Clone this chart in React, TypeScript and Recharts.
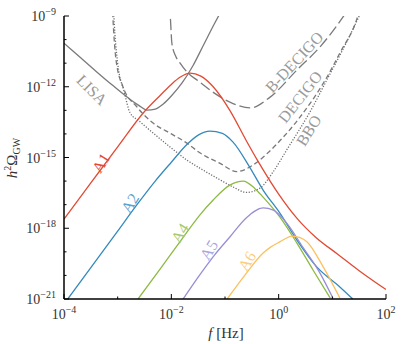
import React from 'react';
import { ComposedChart, Line, XAxis, YAxis, ReferenceDot, Label } from 'recharts';

// all values are exponents: x = log10(f / Hz), y = log10(h^2 Omega_GW)
const lisaX = [-4, -3.7, -3.4, -3.1, -2.8, -2.6, -2.45, -2.3, -2.15, -2.0, -1.8, -1.6, -1.4, -1.2, -1.0];
const lisaY = [-10.15, -10.75, -11.35, -11.93, -12.48, -12.8, -12.99, -12.95, -12.73, -12.39, -11.84, -11.12, -10.23, -9.34, -8.5];

const bDecigoX = [-2.04, -2.02, -1.99, -1.92, -1.84, -1.69, -1.5, -1.28, -0.91, -0.53, -0.16, 0.34, 0.77, 1.2, 1.3];
const bDecigoY = [-8.5, -9.0, -10.15, -10.7, -10.99, -11.42, -11.75, -12.14, -12.65, -12.9, -12.44, -11.29, -10.31, -9.04, -8.7];

const decigoX = [-3.1, -3.09, -3.03, -2.9, -2.64, -2.34, -2.0, -1.71, -1.47, -1.09, -0.78, -0.5, -0.2, 0.1, 0.4, 0.9, 1.14, 1.46, 1.5];
const decigoY = [-8.5, -9.0, -10.87, -12.01, -12.86, -13.54, -14.0, -14.39, -14.8, -15.25, -15.6, -15.35, -14.8, -14.1, -13.28, -11.59, -10.57, -9.1, -8.8];

const bboX = [-3.08, -3.07, -3.0, -2.88, -2.77, -2.6, -2.34, -2.0, -1.71, -1.47, -1.09, -0.85, -0.6, -0.35, -0.1, 0.15, 0.6, 0.9, 1.2, 1.5, 1.55];
const bboY = [-8.5, -9.0, -11.0, -12.2, -13.1, -13.45, -13.96, -14.6, -15.11, -15.45, -15.95, -16.25, -16.48, -16.3, -15.6, -14.68, -13.0, -11.7, -10.4, -9.0, -8.75];

const a1X = [-4, -3.5, -3, -2.5, -2.2, -2.0, -1.84, -1.65, -1.45, -1.22, -0.91, -0.6, -0.4, -0.2, 0, 0.35, 0.7, 1.1, 1.5, 2];
const a1Y = [-17.61, -16.08, -14.55, -13.05, -12.35, -11.9, -11.6, -11.42, -11.55, -12.0, -13.0, -14.3, -15.1, -15.85, -16.55, -17.6, -18.4, -19.1, -19.8, -20.6];

const a2X = [-3.93, -3.5, -3.0, -2.64, -2.3, -2.0, -1.71, -1.5, -1.28, -1.05, -0.85, -0.53, -0.29, 0.02, 0.34, 0.71, 1.14, 1.38];
const a2Y = [-21, -19.67, -18.12, -17.0, -16.0, -15.2, -14.45, -14.05, -13.88, -13.98, -14.35, -15.45, -16.38, -17.35, -18.5, -19.64, -20.49, -21];

const a4X = [-2.62, -2.2, -1.8, -1.47, -1.22, -0.91, -0.66, -0.45, -0.29, 0.02, 0.34, 0.64, 0.96];
const a4Y = [-21, -19.7, -18.45, -17.44, -16.8, -16.17, -16.0, -16.3, -16.68, -17.52, -18.63, -19.77, -20.96];

const a5X = [-1.78, -1.47, -1.2, -0.91, -0.6, -0.29, -0.1, 0.15, 0.45, 0.77, 1.01];
const a5Y = [-21, -19.98, -19.15, -18.37, -17.55, -17.14, -17.23, -17.78, -18.8, -19.9, -20.96];

const a6X = [-0.96, -0.6, -0.29, -0.15, 0.02, 0.25, 0.4, 0.53, 0.83, 1.14];
const a6Y = [-21, -19.9, -19.05, -18.8, -18.58, -18.33, -18.4, -18.58, -19.64, -20.96];

const xTicks = [-4, -3, -2, -1, 0, 1, 2];
const yTicks = [-21, -20, -19, -18, -17, -16, -15, -14, -13, -12, -11, -10, -9];

const SERIF = "'Liberation Serif', 'Times New Roman', 'DejaVu Serif', 'Noto Serif', serif";
const GRAY = '#7a7a7a';
const LABEL_GRAY = '#9a9a9a';

const pts = (xs: number[], ys: number[]) => xs.map((x, i) => ({ x, y: ys[i] }));

const curves = [
  { key: 'lisa', data: pts(lisaX, lisaY), color: GRAY, dash: undefined },
  { key: 'bdecigo', data: pts(bDecigoX, bDecigoY), color: GRAY, dash: '11 4' },
  { key: 'decigo', data: pts(decigoX, decigoY), color: GRAY, dash: '5 3' },
  { key: 'bbo', data: pts(bboX, bboY), color: '#6e6e6e', dash: '1.2 1.6' },
  { key: 'a1', data: pts(a1X, a1Y), color: '#E24A33', dash: undefined },
  { key: 'a2', data: pts(a2X, a2Y), color: '#348ABD', dash: undefined },
  { key: 'a4', data: pts(a4X, a4Y), color: '#8EBA42', dash: undefined },
  { key: 'a5', data: pts(a5X, a5Y), color: '#988ED5', dash: undefined },
  { key: 'a6', data: pts(a6X, a6Y), color: '#FBC15E', dash: undefined },
];

const labels = [
  { text: 'LISA', x: -3.48, y: -12.14, angle: 45, color: LABEL_GRAY },
  { text: 'B-DECIGO', x: 0.29, y: -10.95, angle: -47, color: LABEL_GRAY },
  { text: 'DECIGO', x: 0.4, y: -12.43, angle: -52, color: LABEL_GRAY },
  { text: 'BBO', x: 0.56, y: -13.85, angle: -58, color: LABEL_GRAY },
  { text: 'A1', x: -3.31, y: -15.23, angle: -58, color: '#E24A33' },
  { text: 'A2', x: -2.77, y: -16.93, angle: -58, color: '#5aa2cf' },
  { text: 'A4', x: -1.84, y: -18.2, angle: -58, color: '#a6c96e' },
  { text: 'A5', x: -1.3, y: -18.92, angle: -58, color: '#ada5df' },
  { text: 'A6', x: -0.59, y: -19.39, angle: -58, color: '#fcce80' },
];

const expo = (v: number) => (v < 0 ? '\u2212' + Math.abs(v) : String(v));

const xTick = (side: 'bottom' | 'top') => (props: any) => {
  const { x, y, payload } = props;
  const v = payload.value;
  const major = v % 2 === 0;
  const dir = side === 'bottom' ? -1 : 1;
  return (
    <g>
      <line x1={x} x2={x} y1={y} y2={y + dir * (major ? 5 : 2.5)} stroke="#000" strokeWidth={1} />
      {side === 'bottom' && major && (
        <text x={x} y={y + 20} textAnchor="middle" fill="#333" style={{ fontFamily: SERIF, fontSize: 14 }}>
          10<tspan dy={-6} style={{ fontSize: 10 }}>{expo(v)}</tspan>
        </text>
      )}
    </g>
  );
};

const yTick = (side: 'left' | 'right') => (props: any) => {
  const { x, y, payload } = props;
  const v = payload.value;
  const major = v % 3 === 0;
  const dir = side === 'left' ? 1 : -1;
  return (
    <g>
      <line x1={x} x2={x + dir * (major ? 5 : 2.5)} y1={y} y2={y} stroke="#000" strokeWidth={1} />
      {side === 'left' && major && (
        <text x={x - 8} y={y + 5} textAnchor="end" fill="#333" style={{ fontFamily: SERIF, fontSize: 14 }}>
          10<tspan dy={-6} style={{ fontSize: 10 }}>{expo(v)}</tspan>
        </text>
      )}
    </g>
  );
};

const xLabel = () => (
  <text x={226} y={338} textAnchor="middle" fill="#333" style={{ fontFamily: SERIF, fontSize: 15 }}>
    <tspan fontStyle="italic">f</tspan> [Hz]
  </text>
);

const yLabel = () => (
  <text x={17} y={158} transform="rotate(-90, 17, 158)" textAnchor="middle" fill="#333" style={{ fontFamily: SERIF, fontSize: 15 }}>
    <tspan fontStyle="italic">h</tspan>
    <tspan dy={-6} style={{ fontSize: 10 }}>2</tspan>
    <tspan dy={6}>Ω</tspan>
    <tspan dy={3} style={{ fontSize: 10 }}>GW</tspan>
  </text>
);

const textShape = (text: string, angle: number, color: string) => (props: any) => (
  <text
    x={props.cx}
    y={props.cy}
    transform={`rotate(${angle}, ${props.cx}, ${props.cy})`}
    textAnchor="middle"
    dominantBaseline="central"
    fill={color}
    style={{ fontFamily: SERIF, fontSize: 16 }}
  >
    {text}
  </text>
);

const App = () => {
  return (
    <div style={{ position: 'absolute', left: 0, top: 0, width: 407, height: 344, fontFamily: SERIF }}>
      <ComposedChart width={407} height={344} margin={{ top: 16, right: 21, bottom: 0, left: 0 }}>
        <XAxis
          dataKey="x"
          type="number"
          domain={[-4, 2]}
          ticks={xTicks}
          allowDataOverflow
          height={45}
          tickSize={0}
          tickMargin={0}
          tick={xTick('bottom')}
          axisLine={{ stroke: '#000', strokeWidth: 1.5 }}
          tickLine={false}
          interval={0}
        >
          <Label content={xLabel} />
        </XAxis>
        <XAxis
          xAxisId="top"
          orientation="top"
          dataKey="x"
          type="number"
          domain={[-4, 2]}
          ticks={xTicks}
          allowDataOverflow
          height={0}
          tickSize={0}
          tickMargin={0}
          tick={xTick('top')}
          axisLine={{ stroke: '#000', strokeWidth: 1.5 }}
          tickLine={false}
          interval={0}
        />
        <YAxis
          type="number"
          domain={[-21, -9]}
          ticks={yTicks}
          allowDataOverflow
          width={64}
          tickSize={0}
          tickMargin={0}
          tick={yTick('left')}
          axisLine={{ stroke: '#000', strokeWidth: 1.5 }}
          tickLine={false}
          interval={0}
        >
          <Label content={yLabel} />
        </YAxis>
        <YAxis
          yAxisId="right"
          orientation="right"
          type="number"
          domain={[-21, -9]}
          ticks={yTicks}
          allowDataOverflow
          width={0}
          tickSize={0}
          tickMargin={0}
          tick={yTick('right')}
          axisLine={{ stroke: '#000', strokeWidth: 1.5 }}
          tickLine={false}
          interval={0}
        />
        {curves.map((c) => (
          <Line
            key={c.key}
            data={c.data}
            dataKey="y"
            type="monotone"
            stroke={c.color}
            strokeWidth={1.3}
            strokeDasharray={c.dash}
            dot={false}
            activeDot={false}
            isAnimationActive={false}
          />
        ))}
        {labels.map((l) => (
          <ReferenceDot key={l.text} x={l.x} y={l.y} r={0} shape={textShape(l.text, l.angle, l.color)} />
        ))}
      </ComposedChart>
    </div>
  );
};

export default App;
